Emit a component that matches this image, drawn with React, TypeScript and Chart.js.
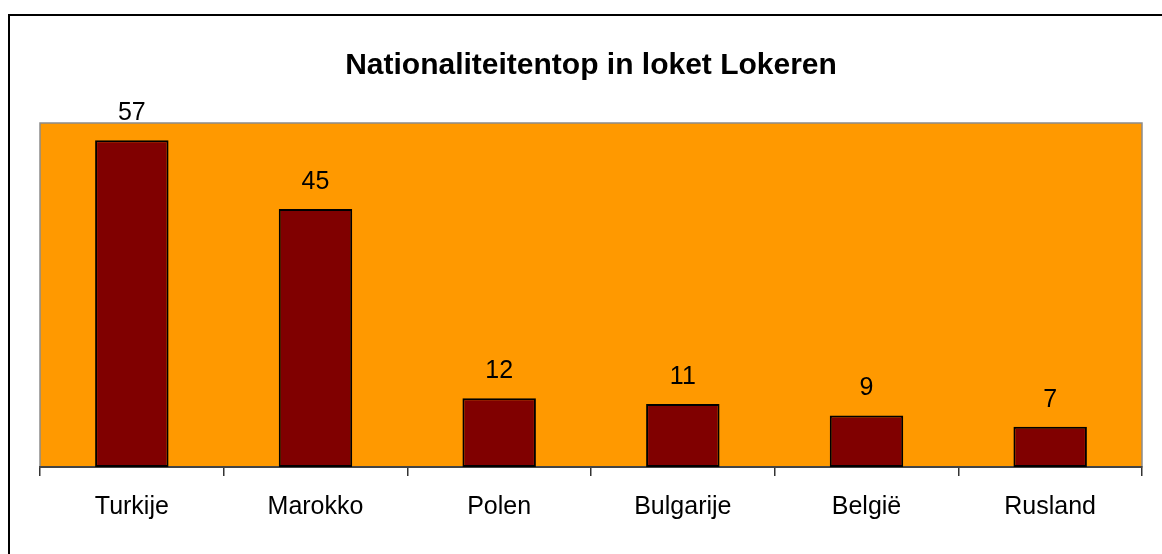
import React, { useEffect, useRef } from "react";
import { Chart, registerables } from "chart.js";

Chart.register(...registerables);

const categories = ["Turkije", "Marokko", "Polen", "Bulgarije", "België", "Rusland"];
const values = [57, 45, 12, 11, 9, 7];
const titleText = "Nationaliteitentop in loket Lokeren";

const FONT = "'Liberation Sans', Arial, sans-serif";

const framePlugin = {
  id: "frame",
  beforeDraw(chart: any) {
    const { ctx, chartArea, width, height } = chart;
    ctx.save();
    ctx.fillStyle = "#ffffff";
    ctx.fillRect(0, 0, width, height);
    ctx.fillStyle = "#000000";
    ctx.fillRect(8, 14, 2, height - 14);
    ctx.fillRect(8, 14, width - 8, 2);
    ctx.fillStyle = "#FF9900";
    ctx.fillRect(chartArea.left, chartArea.top, chartArea.right - chartArea.left, chartArea.bottom - chartArea.top);
    ctx.strokeStyle = "#8c8c8c";
    ctx.lineWidth = 1.5;
    ctx.strokeRect(chartArea.left, chartArea.top, chartArea.right - chartArea.left, chartArea.bottom - chartArea.top);
    ctx.restore();
  },
  afterDatasetsDraw(chart: any) {
    const { ctx } = chart;
    const meta = chart.getDatasetMeta(0);
    ctx.save();
    ctx.fillStyle = "#000000";
    ctx.font = `25px ${FONT}`;
    ctx.textAlign = "center";
    ctx.textBaseline = "alphabetic";
    meta.data.forEach((bar: any, i: number) => {
      ctx.fillText(String(values[i]), bar.x, bar.y - 20);
    });
    ctx.restore();
  },
};

export default function App() {
  const ref = useRef<HTMLCanvasElement>(null);
  useEffect(() => {
    if (!ref.current) return;
    const chart = new Chart(ref.current, {
      type: "bar",
      data: {
        labels: categories,
        datasets: [
          {
            data: values,
            backgroundColor: "#800000",
            borderColor: "#000000",
            borderWidth: 2,
            borderSkipped: false,
            barPercentage: 0.4,
            categoryPercentage: 1,
          },
        ],
      },
      options: {
        animation: false,
        responsive: true,
        maintainAspectRatio: false,
        layout: { padding: { left: 40, right: 20, top: 0, bottom: 0 } },
        plugins: {
          legend: { display: false },
          tooltip: { enabled: false },
          title: {
            display: true,
            text: titleText,
            color: "#000000",
            font: { family: FONT, size: 30, weight: "bold", lineHeight: 1.2 },
            padding: { top: 48, bottom: 39 },
          },
        },
        scales: {
          x: {
            offset: true,
            grid: {
              offset: true,
              drawOnChartArea: false,
              drawTicks: true,
              tickLength: 9,
              color: "#333333",
              lineWidth: 1.5,
            },
            border: { display: true, color: "#444444", width: 2 },
            ticks: {
              color: "#000000",
              font: { family: FONT, size: 25 },
              padding: 16,
              maxRotation: 0,
            },
            afterFit: (scale: any) => {
              scale.height = 87;
            },
          },
          y: {
            display: false,
            min: 0,
            max: 60,
          },
        },
      },
      plugins: [framePlugin],
    });
    return () => chart.destroy();
  }, []);
  return (
    <div style={{ position: "fixed", left: 0, top: 0, width: 1162, height: 554 }}>
      <canvas ref={ref} />
    </div>
  );
}
